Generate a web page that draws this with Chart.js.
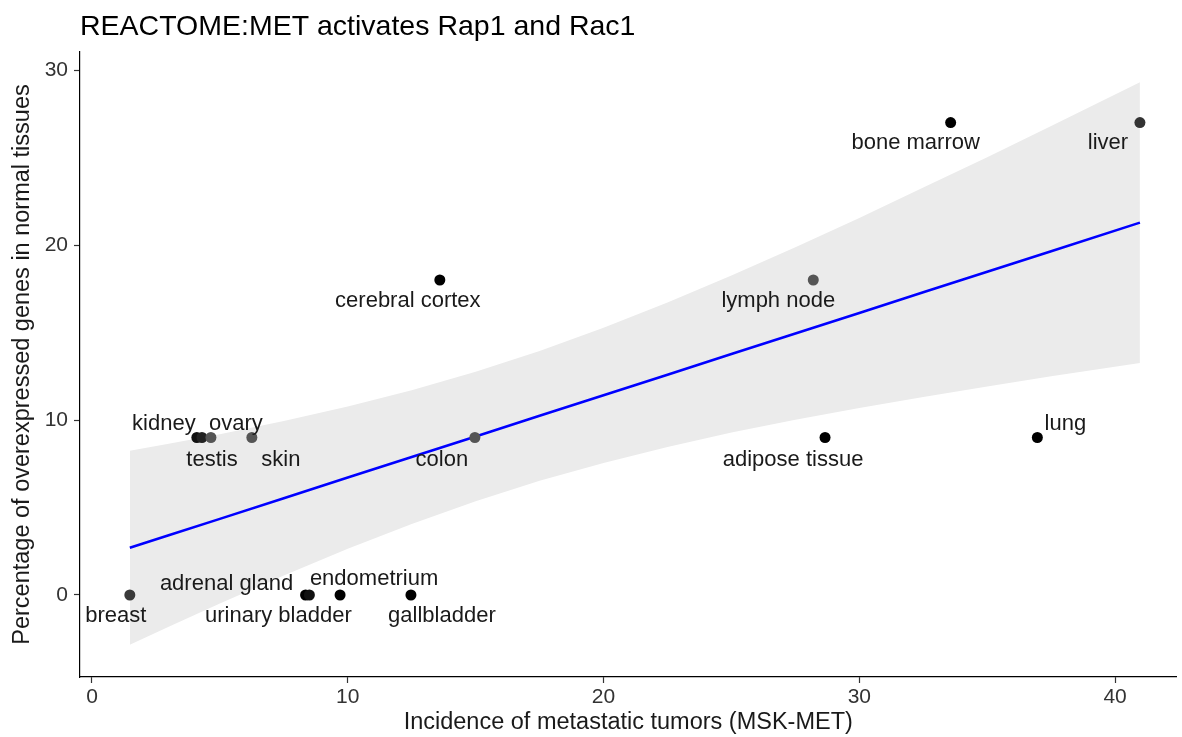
<!DOCTYPE html>
<html>
<head>
<meta charset="utf-8">
<title>REACTOME:MET activates Rap1 and Rac1</title>
<script src="https://cdn.jsdelivr.net/npm/chart.js@4/dist/chart.umd.min.js"></script>
<style>
  html,body{ margin:0; padding:0; background:#fff; }
  #wrap{ width:1182px; height:737px; position:relative; }
</style>
</head>
<body>
<div id="wrap"><canvas id="chart"></canvas></div>
<script>
// Tissues: incidence of metastatic tumors (x) vs % overexpressed genes (y)
const tissues = ["breast","kidney","testis","ovary","skin","adrenal gland","urinary bladder","endometrium",
  "gallbladder","cerebral cortex","colon","lymph node","adipose tissue","bone marrow","lung","liver"];
const incidence = [1.48, 4.1, 4.3, 4.65, 6.25, 8.35, 8.5, 9.7, 12.47, 13.6, 14.97, 28.2, 28.66, 33.57, 36.96, 40.97];
const overexpressed = [0, 9, 9, 9, 9, 0, 0, 0, 0, 18, 9, 18, 9, 27, 9, 27];

// Linear fit and its 95% band
const fitX = [1.48, 3, 5, 7.5, 10, 12.5, 15, 17.5, 20, 22.5, 25, 27.5, 30, 32.5, 35, 37.5, 40.97];
const fitY = [2.70, 3.41, 4.35, 5.53, 6.71, 7.88, 9.06, 10.24, 11.41, 12.59, 13.77, 14.94, 16.12, 17.30, 18.47, 19.65, 21.28];
const bandUpper = [8.25, 8.64, 9.19, 9.94, 10.77, 11.70, 12.76, 13.95, 15.27, 16.72, 18.26, 19.87, 21.55, 23.28, 25.02, 26.80, 29.30];
const bandLower = [-2.85, -1.82, -0.49, 1.12, 2.65, 4.06, 5.36, 6.53, 7.55, 8.46, 9.28, 10.01, 10.69, 11.32, 11.92, 12.50, 13.26];

const xTicks = [0, 10, 20, 30, 40];
const yTicks = [0, 10, 20, 30];

// styling (kept apart from data)
const pointColors = ["#3a3a3a","#111","#222","#555","#555","#000","#111","#000",
  "#000","#000","#555","#555","#000","#000","#000","#333"];
const labelOffsets = [[-14,21],[-33,-14],[10,22],[25,-14],[29,22],[-79,-11],[-31,21],[34,-16],
  [31,21],[-32,21],[-33,22],[-35,21],[-32,22],[-35,20],[28,-14],[-32,20]];

const FONT = "'Liberation Sans', Arial, 'DejaVu Sans', sans-serif";

const pts = incidence.map((x,i)=>({x, y:overexpressed[i]}));
const zip = (xs, ys)=>xs.map((x,i)=>({x, y:ys[i]}));

const labelPlugin = {
  id: "pointLabels",
  afterDatasetsDraw(chart){
    const {ctx} = chart;
    const meta = chart.getDatasetMeta(3);
    ctx.save();
    ctx.font = "22px " + FONT;
    ctx.fillStyle = "#1a1a1a";
    ctx.textAlign = "center";
    ctx.textBaseline = "middle";
    meta.data.forEach((el,i)=>{
      const [dx,dy] = labelOffsets[i];
      ctx.fillText(tissues[i], el.x + dx, el.y + dy);
    });
    ctx.restore();
  }
};

const fixTicks = list => scale => { scale.ticks = list.map(v=>({value:v})); };

new Chart(document.getElementById("chart"), {
  type: "line",
  data: {
    datasets: [
      { label:"upper", data: zip(fitX, bandUpper), borderWidth:0, pointRadius:0,
        backgroundColor:"rgb(235,235,235)", fill:"+1", order:3 },
      { label:"lower", data: zip(fitX, bandLower), borderWidth:0, pointRadius:0,
        backgroundColor:"rgb(235,235,235)", fill:false, order:3 },
      { label:"fit", data: zip(fitX, fitY), borderColor:"#0000ff", borderWidth:2.6,
        pointRadius:0, fill:false, tension:0, order:2 },
      { label:"tissues", data: pts, showLine:false, pointRadius:5.5, pointHoverRadius:5.5,
        pointBackgroundColor: pointColors, pointBorderWidth:0, order:1 }
    ]
  },
  options: {
    responsive: true,
    maintainAspectRatio: false,
    animation: false,
    events: [],
    layout: { padding: { left:0, right:2, top:0, bottom:0 } },
    plugins: {
      legend: { display:false },
      tooltip: { enabled:false },
      title: {
        display: true,
        text: "REACTOME:MET activates Rap1 and Rac1",
        align: "start",
        fullSize: false,
        color: "#000",
        font: { family: FONT, size: 28.5, weight: "normal", lineHeight: 1.2 },
        padding: { top: 10, bottom: 7.8 }
      }
    },
    scales: {
      x: {
        type: "linear",
        min: -0.468, max: 42.4,
        afterBuildTicks: fixTicks(xTicks),
        afterFit: s => { s.height = 60; },
        border: { display:true, color:"#000", width:1.2 },
        grid: { display:true, drawOnChartArea:false, tickLength:6, color:"#333", tickWidth:1.2 },
        ticks: { color:"#333", padding:2, font:{ family:FONT, size:21 } },
        title: { display:true, text:"Incidence of metastatic tumors (MSK-MET)", color:"#1a1a1a",
          font:{ family:FONT, size:23.5, lineHeight:1.2 }, padding:{ top:0, bottom:0 } }
      },
      y: {
        type: "linear",
        min: -4.686, max: 31.03,
        afterBuildTicks: fixTicks(yTicks),
        afterFit: s => { s.width = 80; },
        border: { display:true, color:"#000", width:1.2 },
        grid: { display:true, drawOnChartArea:false, tickLength:6, color:"#333", tickWidth:1.2 },
        ticks: { color:"#333", padding:6, font:{ family:FONT, size:21 } },
        title: { display:true, text:"Percentage of overexpressed genes in normal tissues", color:"#1a1a1a",
          font:{ family:FONT, size:23.5, lineHeight:1.2 }, padding:{ top:8, bottom:0 } }
      }
    }
  },
  plugins: [labelPlugin]
});
</script>
</body>
</html>
